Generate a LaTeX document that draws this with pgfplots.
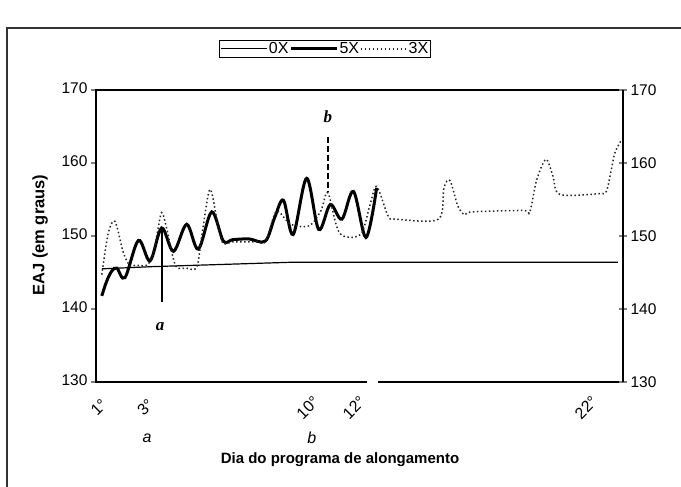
\documentclass[border=0pt]{standalone}
\usepackage{fontspec}
\setmainfont{Liberation Sans}
\newfontfamily\tnr{Liberation Serif}
\usepackage{pgfplots}
\pgfplotsset{compat=1.18}

\pgfplotsset{
  eajbase/.style={
    at={(0,0)}, anchor=south west,
    scale only axis, width=527pt, height=292pt,
    xmin=0.6, xmax=23.32, ymin=130, ymax=170,
    ytick={130,140,...,170},
    /pgf/number format/assume math mode=true,
    yticklabel style={font=\fontsize{15.5}{17}\selectfont},
    axis line style={line width=1.2pt},
    major tick style={line width=1.1pt},
  }
}

\begin{document}
\begin{tikzpicture}
\useasboundingbox (-96pt,-105pt) rectangle (585pt,382pt);
% moldura da figura
\draw[line width=1.2pt, black!80] (-89pt,-110pt) -- (-89pt,354pt) -- (590pt,354pt);

\begin{axis}[eajbase,
  clip=false,
  xtick={1,3,10,12,22},
  xticklabels={1°,3°,10°,12°,22°},
  typeset ticklabels with strut,
  xticklabel style={anchor=center, xshift=-5pt, yshift=-22pt, rotate=45,
    font=\fontsize{16}{18}\selectfont},
  major x tick style={draw=none},
  ytick pos=left, tick align=outside, major tick length=5pt,
  xlabel={Dia do programa de alongamento},
  xlabel style={at={(axis description cs:0.463,-0.267)}, anchor=center,
    font=\bfseries\fontsize{15}{17}\selectfont},
  ylabel={EAJ (em graus)},
  ylabel style={at={(axis description cs:-0.106,0.503)}, anchor=center,
    font=\bfseries\fontsize{16.5}{18}\selectfont},
  legend columns=3,
  legend style={at={(0.4345,1.171)}, anchor=north, draw=black,
    line width=0.9pt, inner sep=1pt,
    font=\fontsize{16}{18}\selectfont,
    nodes={inner sep=1pt},
    /tikz/every even column/.append style={column sep=0pt}},
  legend image code/.code={\draw[#1] (0pt,0pt) -- (46pt,0pt);},
]
% 0X
\addplot[black, line width=1.2pt] coordinates {
  (0.85,145.5) (3,145.8) (6,146.1) (9,146.4) (12,146.4) (23.1,146.4)};
\addlegendentry{0X}
% 5X
\addplot[black, line width=3pt, smooth, tension=0.55] coordinates {
  (0.85,141.8) (1.06,143.8) (1.28,145.2) (1.5,145.6) (1.85,144.3)
  (2.43,149.4) (2.93,146.6) (3.43,151.1) (3.94,147.9) (4.51,151.6)
  (5.01,148.2) (5.59,153.3) (6.09,149.3) (6.5,149.5) (7.2,149.6)
  (7.9,149.3) (8.3,152.5) (8.68,154.9) (9.1,150.2) (9.68,157.9)
  (10.2,150.9) (10.7,154.3) (11.2,152.3) (11.7,156.1) (12.24,149.8)
  (12.7,156.6)};
\addlegendentry{5X}
% 3X
\addplot[black!85, line width=1.5pt, dash pattern=on 1.5pt off 2.5pt,
  smooth, tension=0.5] coordinates {
  (0.85,144.7) (1.13,150.4) (1.42,152.0) (1.78,147.7) (2.07,145.9)
  (2.3,146.0) (2.8,146.0) (3.05,147.5) (3.22,150.0) (3.43,153.2)
  (3.65,151.0) (3.87,147.7) (4.08,145.7) (4.5,145.6) (4.94,145.7)
  (5.16,150.0) (5.44,155.7) (5.6,155.8) (6.02,149.3) (6.5,149.2)
  (7.5,149.2) (7.9,149.2) (8.3,153.0) (8.5,153.3) (9.0,151.6)
  (9.8,151.4) (10.3,153.5) (10.6,155.9) (11.1,150.4) (12.0,150.2)
  (12.4,154.1) (12.7,156.8) (13.2,152.7) (13.56,152.3) (15.36,152.3)
  (15.6,156.6) (15.86,157.6) (16.2,154.1) (16.5,152.9) (16.8,153.3)
  (19.0,153.5) (19.3,153.3) (19.6,157.7) (20.0,160.5) (20.3,158.2)
  (20.6,155.7) (22.3,155.8) (22.6,156.1) (22.8,158.8) (22.97,161.4)
  (23.26,163.2)};
\addlegendentry{3X}

% marcas a e b
\draw[line width=2.5pt] (axis cs:3.45,151.2) -- (axis cs:3.45,140.9);
\node[font=\tnr\bfseries\itshape\fontsize{17}{19}\selectfont]
  at (axis cs:3.36,137.6) {a};
\draw[line width=2.5pt, dash pattern=on 6pt off 3pt]
  (axis cs:10.6,163.6) -- (axis cs:10.6,156.1);
\node[font=\tnr\bfseries\itshape\fontsize{17}{19}\selectfont]
  at (axis cs:10.6,166.3) {b};
\node[font=\itshape\fontsize{16}{18}\selectfont] at (axis cs:2.8,122.3) {a};
\node[font=\itshape\fontsize{16}{18}\selectfont] at (axis cs:9.9,122.3) {b};

\coordinate (g1) at (axis cs:12.3,130);
\coordinate (g2) at (axis cs:12.76,130);
\end{axis}

\begin{axis}[eajbase,
  axis x line=none, axis y line*=right,
  tick align=center, major tick length=8pt,
]
\end{axis}

\draw[white, line width=4pt] (g1) -- (g2);
\end{tikzpicture}
\end{document}
